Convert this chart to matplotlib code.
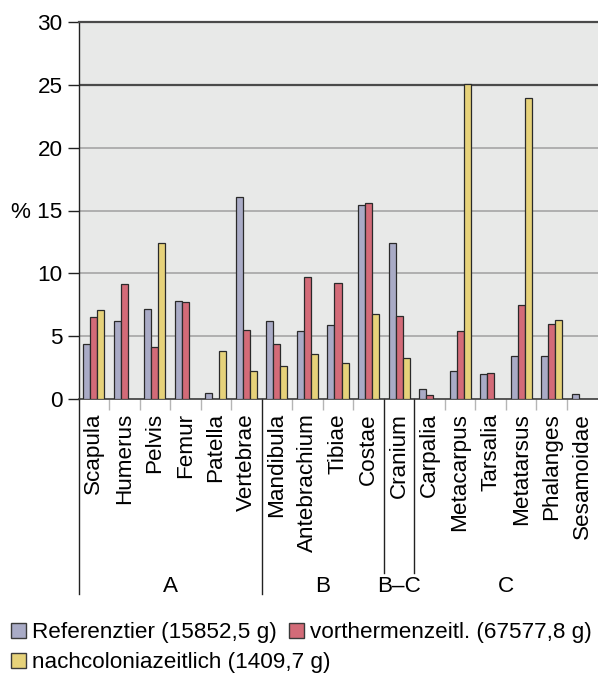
import numpy as np
import matplotlib
matplotlib.use("Agg")
import matplotlib.pyplot as plt
from matplotlib.patches import Rectangle
from matplotlib.transforms import blended_transform_factory

plt.rcParams['font.family'] = ['Liberation Sans', 'DejaVu Sans']

# Skeletal elements (share of total bone weight, %)
categories = ["Scapula", "Humerus", "Pelvis", "Femur", "Patella", "Vertebrae",
              "Mandibula", "Antebrachium", "Tibiae", "Costae",
              "Cranium",
              "Carpalia", "Metacarpus", "Tarsalia", "Metatarsus", "Phalanges", "Sesamoidae"]
nan = np.nan
referenz = [4.4, 6.2, 7.2, 7.8, 0.45, 16.1, 6.2, 5.4, 5.9, 15.45, 12.45,
            0.8, 2.2, 2.0, 3.4, 3.45, 0.4]
vortherm = [6.55, 9.15, 4.1, 7.75, nan, 5.5, 4.4, 9.7, 9.25, 15.6, 6.6,
            0.35, 5.45, 2.1, 7.45, 5.95, nan]
nachcol = [7.05, nan, 12.4, nan, 3.8, 2.25, 2.65, 3.6, 2.85, 6.75, 3.3,
           nan, 25.05, nan, 23.95, 6.3, nan]
series_labels = ["Referenztier (15852,5 g)", "vorthermenzeitl. (67577,8 g)",
                 "nachcoloniazeitlich (1409,7 g)"]
colors = ["#a9abc6", "#d36b78", "#e6d27a"]

# Region groups: (label, first index, last index)
groups = [("A", 0, 5), ("B", 6, 9), ("B\u2013C", 10, 10), ("C", 11, 16)]

yticks = [0, 5, 10, 15, 20, 25, 30]
yticklabels = ["0", "5", "10", "% 15", "20", "25", "30"]

FS = 16.2
W, H = 598, 675
fig = plt.figure(figsize=(W / 100, H / 100), dpi=100)
left_px, right_px, top_px, bot_px = 78.5, 597.5, 22, 399
ax = fig.add_axes([left_px / W, 1 - bot_px / H,
                   (right_px - left_px) / W, (bot_px - top_px) / H])
ax.set_facecolor("#e8e9e8")

n = len(categories)
x = np.arange(n)
bw = 0.23
for i, (vals, col) in enumerate(zip([referenz, vortherm, nachcol], colors)):
    ax.bar(x + (i - 1) * bw, vals, width=bw, color=col, edgecolor="#2a2a2a",
           linewidth=0.9, zorder=3)

ax.set_xlim(-0.5, n - 0.5)
ax.set_ylim(0, 30)

# Horizontal grid
for v in [5, 10, 15, 20]:
    ax.axhline(v, color="#a5a5a5", lw=1.2, zorder=1)
ax.axhline(25, color="#4a4a4a", lw=1.6, zorder=1)

ax.spines["right"].set_visible(False)
ax.spines["top"].set_color("#4a4a4a")
ax.spines["top"].set_linewidth(1.6)
ax.spines["bottom"].set_color("#3a3a3a")
ax.spines["bottom"].set_linewidth(1.2)
ax.spines["left"].set_color("#222222")
ax.spines["left"].set_linewidth(1.0)

ax.set_yticks(yticks)
ax.set_yticklabels(yticklabels, fontsize=FS)
ax.tick_params(axis="y", length=8, width=1.0, color="#222222", pad=3.5)

ax.set_xticks(x)
ax.set_xticklabels(categories, rotation=90, fontsize=FS, va="top")
ax.tick_params(axis="x", length=0, pad=10)

# Light separators between categories, black separators between groups
group_bounds = {5.5, 9.5, 10.5}
minor = [b for b in np.arange(0.5, n - 0.5, 1.0) if b not in group_bounds]
ax.set_xticks(minor, minor=True)
ax.tick_params(axis="x", which="minor", length=8, width=1.0, color="#b5b5b5")

trans = blended_transform_factory(ax.transData, ax.transAxes)
long_end = (bot_px - 594) / (bot_px - top_px)
short_end = (bot_px - 573) / (bot_px - top_px)
ax.plot([-0.5, -0.5], [0, long_end], transform=trans, color="#222222",
        lw=1.0, clip_on=False)
ax.plot([5.5, 5.5], [0, long_end], transform=trans, color="#222222",
        lw=1.0, clip_on=False)
for b in [9.5, 10.5]:
    ax.plot([b, b], [0, short_end], transform=trans, color="#222222",
            lw=1.0, clip_on=False)

label_y = (bot_px - 587) / (bot_px - top_px)
for name, a, b in groups:
    ax.text((a + b) / 2, label_y, name, transform=trans, ha="center",
            va="center", fontsize=FS)

# Legend drawn in figure pixel coordinates
def legend_item(px, py, color, text):
    fig.patches.append(Rectangle((px / W, 1 - (py + 7.5) / H), 15 / W, 15 / H,
                                 transform=fig.transFigure, facecolor=color,
                                 edgecolor="#3a3a3a", linewidth=1.0))
    fig.text((px + 21) / W, 1 - py / H, text, fontsize=FS, ha="left",
             va="center_baseline")

legend_item(11, 630, colors[0], series_labels[0])
legend_item(289, 630, colors[1], series_labels[1])
legend_item(11, 660, colors[2], series_labels[2])

fig.savefig("out.png", dpi=100)
